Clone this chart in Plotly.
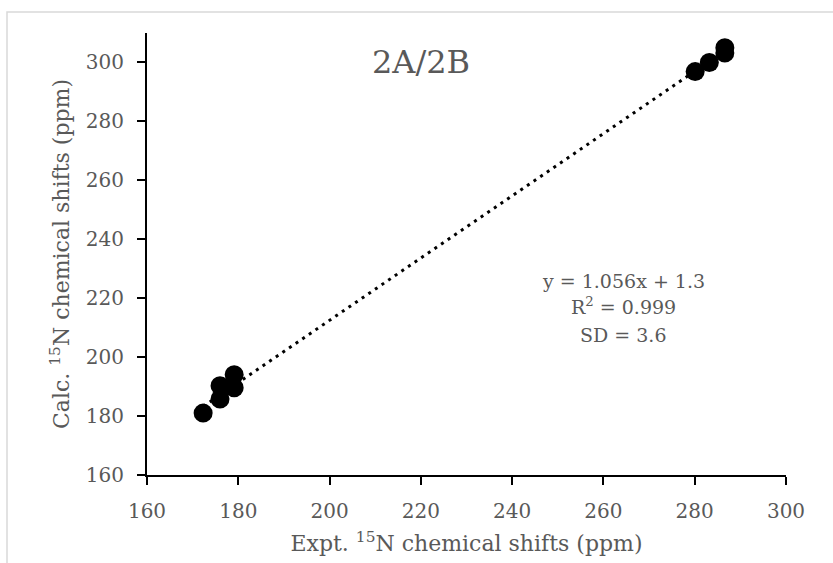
import plotly.graph_objects as go

# ---- data ----
expt_shifts = [172.3, 176.0, 176.0, 179.1, 179.1, 280.1, 283.2, 286.6, 286.6]
calc_shifts = [181.0, 185.8, 190.3, 189.6, 194.0, 296.9, 300.0, 305.0, 303.2]
fit_slope = 1.056
fit_intercept = 1.3
fit_r2 = "0.999"
fit_sd = "3.6"
panel_label = "2A/2B"
x_ticks = [160, 180, 200, 220, 240, 260, 280, 300]
y_ticks = [160, 180, 200, 220, 240, 260, 280, 300]

W, H = 833, 563
ML, MR, MT, MB = 147, 47, 33, 88
PW, PH = W - ML - MR, H - MT - MB

def px_x(p):
    return (p - ML) / PW

def px_y(p):
    return (H - MB - p) / PH

FONT = "DejaVu Serif"
GREY = "#595959"

trend_x = [min(expt_shifts), max(expt_shifts)]
trend_y = [fit_slope * v + fit_intercept for v in trend_x]

fig = go.Figure()
fig.add_trace(go.Scatter(
    x=trend_x, y=trend_y, mode="lines",
    line=dict(color="black", width=3, dash="3px,5px"),
    hoverinfo="skip", showlegend=False))
fig.add_trace(go.Scatter(
    x=expt_shifts, y=calc_shifts, mode="markers",
    marker=dict(size=19, color="black", line=dict(width=0)),
    showlegend=False))

axis_common = dict(
    showline=True, linecolor="black", linewidth=2,
    ticks="outside", ticklen=8, tickwidth=2, tickcolor="black",
    showgrid=False, zeroline=False,
    tickfont=dict(family=FONT, size=20, color=GREY),
    ticklabelstandoff=9,
)

fig.update_layout(
    width=W, height=H,
    margin=dict(l=ML, r=MR, t=MT, b=MB),
    paper_bgcolor="white", plot_bgcolor="white",
    xaxis=dict(range=[160, 300], tickvals=x_ticks,
               title=dict(text="Expt. <sup>15</sup>N chemical shifts (ppm)",
                          font=dict(family=FONT, size=22, color=GREY), standoff=14),
               **axis_common),
    yaxis=dict(range=[160, 310], tickvals=y_ticks,
               title=dict(text="Calc. <sup>15</sup>N chemical shifts (ppm)",
                          font=dict(family=FONT, size=22, color=GREY), standoff=10),
               **axis_common),
    shapes=[dict(type="rect", xref="paper", yref="paper",
                 x0=px_x(7), x1=px_x(845), y0=px_y(575), y1=px_y(12),
                 line=dict(color="#D9D9D9", width=1.5), layer="below")],
    annotations=[
        dict(text=panel_label, xref="paper", yref="paper", x=px_x(421), y=px_y(61.5),
             showarrow=False, xanchor="center", yanchor="middle",
             font=dict(family=FONT, size=32, color=GREY)),
        dict(text=f"y = {fit_slope}x + {fit_intercept}", xref="paper", yref="paper",
             x=px_x(623), y=px_y(281), showarrow=False, xanchor="center", yanchor="middle",
             font=dict(family=FONT, size=19, color=GREY)),
        dict(text=f"R<sup>2</sup> = {fit_r2}", xref="paper", yref="paper",
             x=px_x(623), y=px_y(306), showarrow=False, xanchor="center", yanchor="middle",
             font=dict(family=FONT, size=19, color=GREY)),
        dict(text=f"SD = {fit_sd}", xref="paper", yref="paper",
             x=px_x(623), y=px_y(335), showarrow=False, xanchor="center", yanchor="middle",
             font=dict(family=FONT, size=19, color=GREY)),
    ],
)

fig.write_html("out.html")
